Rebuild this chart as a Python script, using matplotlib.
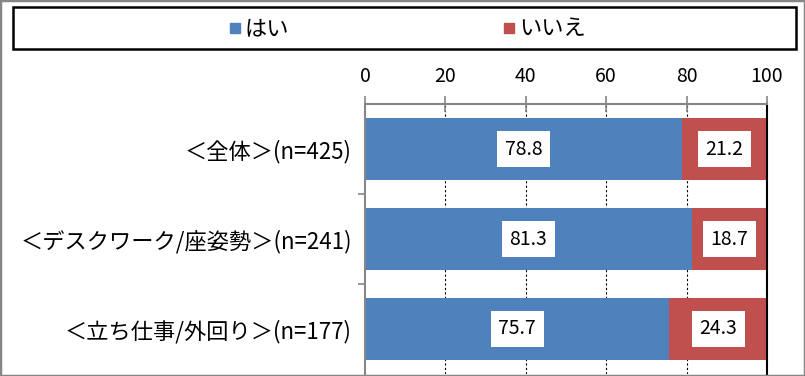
import matplotlib
matplotlib.use("Agg")
import matplotlib.pyplot as plt
from matplotlib.lines import Line2D
from matplotlib.patches import Rectangle

plt.rcParams['font.family'] = ['Noto Sans CJK JP', 'DejaVu Sans']

categories = ['＜全体＞(n=425)', '＜デスクワーク/座姿勢＞(n=241)', '＜立ち仕事/外回り＞(n=177)']
series_names = ['はい', 'いいえ']
yes_vals = [78.8, 81.3, 75.7]
no_vals = [21.2, 18.7, 24.3]
xticks = [0, 20, 40, 60, 80, 100]

BLUE = '#4F81BD'
RED = '#C0504D'
GREY = '#868686'

fig = plt.figure(figsize=(8.05, 3.76), dpi=100)
ax = fig.add_axes([365/805, 1 - 374/376, (767-365)/805, (374-104)/376])

y = list(range(len(categories)))
b1 = ax.barh(y, yes_vals, height=0.68, color=BLUE, label=series_names[0])
b2 = ax.barh(y, no_vals, left=yes_vals, height=0.68, color=RED, label=series_names[1])

bbox = dict(boxstyle='square,pad=0.4', facecolor='white', edgecolor='none')
for cont, vals in ((b1, yes_vals), (b2, no_vals)):
    ax.bar_label(cont, labels=[f'{v:.1f}' for v in vals], label_type='center',
                 fontsize=14, color='black', bbox=bbox)

ax.set_xlim(0, 100)
ax.set_ylim(len(categories) - 0.5, -0.5)
ax.xaxis.tick_top()
ax.set_xticks(xticks)
ax.set_xticklabels([str(t) for t in xticks], fontsize=14)
ax.tick_params(axis='x', direction='inout', length=12, width=1.2, color=GREY, pad=6)

ax.set_yticks(y)
ax.set_yticklabels(categories, fontsize=16)
ax.set_yticks([i + 0.5 for i in range(len(categories) - 1)], minor=True)
ax.tick_params(axis='y', which='major', length=0, pad=9.5)
ax.tick_params(axis='y', which='minor', length=5, width=1.2, color=GREY, direction='out')

for g in xticks[1:-1]:
    ax.axvline(g, color='black', lw=0.8, ls=(0, (2, 2)), zorder=0)

for s in ('top', 'left'):
    ax.spines[s].set_color(GREY)
    ax.spines[s].set_linewidth(1.5)
ax.spines['bottom'].set_visible(False)
ax.spines['right'].set_color('black')
ax.spines['right'].set_linewidth(1.5)

# legend box
fig.patches.append(Rectangle((13/805, 1 - 49/376), (796-13)/805, (49-7)/376,
                             transform=fig.transFigure, fill=False,
                             edgecolor='black', linewidth=1.8))
handles = [Line2D([], [], marker='s', linestyle='', color=c, markersize=7.5)
           for c in (BLUE, RED)]
fig.legend(handles, series_names, loc='center', bbox_to_anchor=(407/805, 1 - 29/376),
           ncol=2, frameon=False, fontsize=16, handlelength=0.6, handletextpad=0.15,
           columnspacing=9.6)

# figure border
fig.patches.append(Rectangle((0, 0), 1, 1, transform=fig.transFigure, fill=False,
                             edgecolor=GREY, linewidth=2.5))

fig.savefig('out.png', dpi=100)
